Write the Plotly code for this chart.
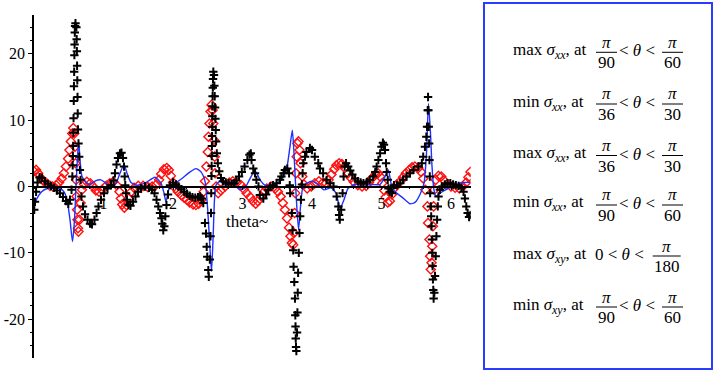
import plotly.graph_objects as go

# ---------------- data ----------------
theta_cross = [0.004, 0.014, 0.03, 0.05, 0.08, 0.115, 0.158, 0.20, 0.245, 0.29, 0.33, 0.374, 0.417, 0.46, 0.494, 0.518, 0.54,
               0.552, 0.557, 0.56, 0.563, 0.566, 0.569, 0.572, 0.575, 0.578, 0.581, 0.584, 0.587, 0.591, 0.597,
               0.610, 0.614, 0.617, 0.62, 0.623, 0.626, 0.629, 0.633, 0.64, 0.65, 0.66, 0.67, 0.683, 0.705, 0.734, 0.77,
               0.806, 0.835, 0.87, 0.90, 0.928, 0.964, 1.007, 1.058, 1.108, 1.144, 1.165, 1.187, 1.209, 1.237, 1.259,
               1.28, 1.295, 1.305, 1.313, 1.324, 1.338, 1.36, 1.388, 1.424, 1.46, 1.496, 1.54, 1.597, 1.655, 1.698,
               1.734, 1.763, 1.788, 1.813, 1.835, 1.846, 1.86, 1.875, 1.89, 1.906, 1.928, 1.957, 2.0, 2.043, 2.08,
               2.12, 2.16, 2.20, 2.24, 2.28, 2.32, 2.36, 2.39, 2.413, 2.436, 2.46, 2.475, 2.485, 2.493, 2.508, 2.515, 2.53, 2.54,
               2.547, 2.55, 2.554, 2.556, 2.558, 2.56, 2.562, 2.564, 2.566, 2.568, 2.57, 2.573, 2.576, 2.58, 2.59,
               2.595, 2.60, 2.605, 2.61, 2.615, 2.62, 2.63, 2.645, 2.665, 2.69, 2.72, 2.76, 2.80, 2.84, 2.88, 2.91,
               2.95, 2.99, 3.03, 3.07, 3.10, 3.12, 3.13, 3.155, 3.18, 3.20, 3.23, 3.25, 3.30, 3.34, 3.37, 3.40, 3.44,
               3.49, 3.54, 3.56, 3.59, 3.61, 3.645, 3.67, 3.68, 3.685, 3.71, 3.72, 3.73, 3.735, 3.745, 3.755, 3.76,
               3.763, 3.766, 3.77, 3.775, 3.785, 3.79, 3.795, 3.80, 3.81, 3.82, 3.83, 3.84, 3.855, 3.865, 3.875, 3.90,
               3.92, 3.97, 4.0, 4.04, 4.09, 4.115, 4.16, 4.21, 4.26, 4.31, 4.355, 4.38, 4.39, 4.40, 4.42, 4.44, 4.455,
               4.47, 4.49, 4.52, 4.55, 4.58, 4.62, 4.66, 4.70, 4.74, 4.79, 4.83, 4.88, 4.91, 4.93, 4.955, 4.98, 5.0,
               5.02, 5.036, 5.05, 5.065, 5.075, 5.09, 5.10, 5.12, 5.15, 5.18, 5.22, 5.27, 5.31, 5.36, 5.41, 5.46, 5.53,
               5.58, 5.60, 5.625, 5.645, 5.655, 5.665, 5.67, 5.675, 5.68, 5.685, 5.69, 5.695, 5.70, 5.71, 5.715, 5.72,
               5.725, 5.73, 5.735, 5.74, 5.745, 5.75, 5.76, 5.77, 5.78, 5.79, 5.80, 5.81, 5.82, 5.84, 5.87, 5.91, 5.95,
               5.99, 6.03, 6.07, 6.11, 6.15, 6.18, 6.20, 6.22, 6.24, 6.26, 6.28]
sigma_cross = [-3.5, -2.3, -0.8, 0.6, 1.4, 1.3, 0.8, 0.4, 0.1, -0.2, -0.6, -1.0, -1.6, -2.2, -2.6, -2.0, -0.5,
               1.5, 3.2, 4.6, 6.1, 8.1, 10.3, 12.9, 15.1, 17.3, 19.8, 21.4, 23.2, 24.2, 24.6,
               24.0, 22.2, 20.4, 18.2, 16.0, 13.5, 11.0, 8.6, 6.5, 4.5, 2.5, 1.0, -1.5, -3.0, -4.2, -5.0,
               -5.6, -5.7, -5.0, -4.0, -3.0, -2.0, -1.0, -0.3, 0.2, 0.9, 2.0, 3.3, 4.3, 5.0, 5.1,
               4.3, 3.0, 1.5, 0.2, -1.0, -2.0, -2.8, -2.9, -2.3, -1.5, -0.8, -0.3, 0.0, -0.2, -0.5,
               -1.0, -2.0, -3.0, -4.0, -4.8, -5.6, -6.6, -6.0, -4.5, -2.8, -1.2, 0.2, 0.6, 0.3, 0.0,
               -0.4, -0.8, -1.1, -1.4, -1.6, -1.7, -1.6, -1.5, -1.8, -2.5, -5.5, -7.1, -9.1, -10.6, -12.6, -13.6, -11.0, -7.5,
               -4.0, -1.0, 1.6, 3.1, 4.6, 6.1, 7.6, 9.0, 10.6, 12.1, 13.6, 14.9, 16.2, 17.3, 16.8,
               15.2, 13.6, 11.9, 10.2, 8.5, 6.8, 5.0, 3.5, 2.3, 1.3, 0.8, 0.6, 0.5, 0.4, 0.5, 0.9,
               1.5, 2.2, 3.0, 4.0, 4.8, 5.0, 4.0, 2.7, 2.0, 1.0, 0.0, -1.3, -1.8, -1.2, -0.5, 0.0, 0.2,
               0.5, 1.0, 1.5, 2.0, 2.5, 2.7, 2.0, 0.2, -1.0, -4.0, -6.6, -9.6, -12.1, -14.4, -16.9, -19.4,
               -21.1, -22.9, -24.2, -24.8, -22.0, -19.0, -16.0, -13.0, -10.0, -7.0, -4.5, -2.0, 0.3, 2.0, 3.5, 4.5,
               5.2, 5.8, 5.5, 4.5, 3.5, 2.7, 2.0, 1.0, 0.5, 0.0, -1.5, -3.0, -4.3, -5.0, -3.5, -1.0, 1.5,
               3.0, 3.5, 3.0, 2.4, 1.8, 1.2, 0.8, 0.6, 0.5, 0.7, 1.0, 1.5, 2.2, 3.0, 4.0, 5.0, 6.0,
               6.6, 6.3, 5.5, 3.5, 2.2, 1.0, -0.3, -0.8, -1.0, 0.2, 0.2, 0.5, 1.0, 1.5, 2.0, 2.5, 3.0,
               3.5, 4.5, 6.0, 7.5, 9.0, 11.5, 13.5, 11.5, 9.0, 6.5, 4.0, 1.5, -1.0, -3.0, -4.5, -6.0,
               -8.0, -10.0, -12.0, -14.0, -15.6, -16.9, -16.0, -13.5, -10.5, -7.5, -5.0, -3.0, -1.5, -0.5, 0.0, 0.3, 0.5,
               0.5, 0.3, 0.2, 0.1, -0.2, -0.8, -1.8, -3.0, -4.0, -4.6, -4.3]

theta_red = [0.00, 0.03, 0.06, 0.10, 0.14, 0.19, 0.23, 0.27, 0.32, 0.36, 0.40, 0.43, 0.46, 0.49, 0.51, 0.53, 0.55,
             0.565, 0.58, 0.59, 0.597, 0.605, 0.61, 0.62, 0.626, 0.633, 0.64, 0.655, 0.67, 0.69, 0.72, 0.76, 0.81,
             0.85, 0.89, 0.935, 0.98, 1.04, 1.09, 1.14, 1.19, 1.23, 1.25, 1.27, 1.30, 1.33, 1.36, 1.40, 1.44, 1.50,
             1.57, 1.64, 1.70, 1.76, 1.80, 1.83, 1.87, 1.91, 1.94, 1.97, 2.00, 2.04, 2.07, 2.12, 2.16, 2.20, 2.24,
             2.29, 2.33, 2.37, 2.41, 2.44, 2.46, 2.48, 2.50, 2.51, 2.525, 2.54, 2.555, 2.57, 2.58, 2.59, 2.60, 2.605,
             2.62, 2.65, 2.69, 2.75, 2.81, 2.86, 2.92, 2.98, 3.02, 3.06, 3.11, 3.15, 3.19, 3.22, 3.27, 3.31, 3.35,
             3.41, 3.47, 3.51, 3.55, 3.58, 3.61, 3.64, 3.67, 3.69, 3.71, 3.73, 3.74, 3.75, 3.76, 3.77, 3.78, 3.79,
             3.805, 3.82, 3.835, 3.86, 3.885, 3.93, 3.99, 4.04, 4.10, 4.16, 4.20, 4.24, 4.28, 4.32, 4.35, 4.39, 4.43,
             4.47, 4.52, 4.56, 4.60, 4.66, 4.72, 4.78, 4.82, 4.86, 4.91, 4.95, 4.98, 5.01, 5.04, 5.06, 5.09, 5.12,
             5.15, 5.18, 5.22, 5.27, 5.31, 5.35, 5.40, 5.44, 5.48, 5.53, 5.57, 5.60, 5.63, 5.66, 5.67, 5.69, 5.70,
             5.71, 5.72, 5.73, 5.74, 5.75, 5.76, 5.78, 5.82, 5.86, 5.90, 5.94, 6.00, 6.06, 6.12, 6.17, 6.22, 6.25,
             6.28]
sigma_red = [2.3, 2.5, 2.0, 1.3, 0.8, 0.4, 0.1, 0.0, 0.2, 0.6, 1.2, 2.0, 3.0, 4.2, 5.5, 6.8, 8.0,
             8.8, 8.0, 6.0, 3.5, 1.0, -1.5, -3.5, -5.0, -6.3, -6.8, -5.0, -2.5, -0.5, 0.3, 0.7, 0.5,
             0.0, -0.6, -0.8, -0.5, 0.1, 0.5, 0.7, 0.2, -0.8, -1.8, -2.7, -3.2, -2.8, -1.8, -0.8, -0.2, 0.1,
             0.1, -0.1, 0.0, 0.3, 1.0, 1.9, 2.6, 2.8, 2.5, 1.6, 0.6, -0.3, -0.8, -1.3, -1.7, -2.0, -2.4,
             -2.7, -2.8, -2.6, -2.0, -0.8, 0.8, 3.0, 5.2, 7.5, 9.5, 11.3, 12.3, 11.5, 9.5, 7.0, 4.5, 2.0,
             0.0, -1.0, -0.6, 0.0, 0.6, 0.8, 0.6, 0.2, -0.4, -1.0, -1.6, -2.2, -2.6, -2.2, -1.5, -0.8, -0.3,
             0.0, -0.3, -0.8, -1.5, -2.5, -3.5, -4.8, -6.2, -7.5, -8.5, -8.8, -7.0, -4.0, -1.0, 2.0, 4.5, 6.5,
             6.8, 5.5, 3.5, 1.5, 0.3, -0.3, 0.0, 0.5, 0.8, 0.6, 0.5, 1.0, 1.8, 2.6, 3.2, 3.5, 3.4,
             2.8, 2.0, 1.3, 0.7, 0.2, 0.0, 0.1, 0.6, 1.2, 1.8, 2.0, 1.5, 0.5, -0.6, -1.6, -2.4, -2.2,
             -1.2, -0.3, 0.3, 0.8, 1.4, 2.0, 2.5, 2.9, 3.0, 2.8, 2.2, 1.2, -0.5, -3.0, -5.5, -8.0, -10.5,
             -12.5, -11.5, -9.0, -6.0, -3.0, -0.5, 1.0, 1.6, 1.5, 0.9, 0.3, 0.0, -0.2, -0.3, 0.0, 0.6, 1.4,
             2.2]

theta_blue = [0.007, 0.043, 0.11, 0.187, 0.302, 0.374, 0.432, 0.475, 0.518, 0.554, 0.583, 0.604, 0.626, 0.643, 0.662,
              0.691, 0.748, 0.806, 0.892, 0.964, 1.036, 1.108, 1.18, 1.237, 1.295, 1.338, 1.396, 1.482, 1.597, 1.741,
              1.827, 1.871, 1.899, 1.928, 1.957, 2.029, 2.129, 2.245, 2.331, 2.403, 2.46, 2.496, 2.525, 2.554, 2.576,
              2.597, 2.619, 2.676, 2.748, 2.849, 2.964, 3.036, 3.108, 3.18, 3.252, 3.324, 3.468, 3.568, 3.64, 3.683,
              3.717, 3.741, 3.77, 3.806, 3.835, 3.871, 3.928, 4.0, 4.086, 4.173, 4.273, 4.345, 4.403, 4.46, 4.518,
              4.619, 4.719, 4.863, 4.978, 5.05, 5.098, 5.137, 5.194, 5.295, 5.41, 5.482, 5.554, 5.612, 5.647, 5.676,
              5.705, 5.727, 5.755, 5.784, 5.842, 5.942, 6.058, 6.158, 6.273]
sigma_blue = [-2.8, -1.8, -0.8, -0.3, -0.2, -0.3, -0.8, -2.0, -5.0, -8.3, -5.0, 0.0, 4.5, 6.8, 4.0,
              1.5, 0.6, 0.3, 0.9, 1.0, 0.5, 0.1, 0.5, 2.0, 3.3, 2.0, 0.6, 0.2, 0.5, 1.4,
              0.5, -1.0, -2.3, -1.0, 0.2, 0.5, 1.2, 2.2, 2.7, 2.2, 0.8, -3.0, -8.0, -12.8, -8.0,
              -2.0, 0.2, 0.8, 0.2, 0.5, -0.5, -0.2, 1.2, 2.4, 1.0, 0.2, 0.3, 1.2, 3.0, 6.0,
              8.5, 5.0, -1.0, -6.5, -3.0, 0.0, 0.5, 0.8, 0.3, -0.5, -0.2, -1.0, -3.3, -2.0, -0.3,
              0.3, 0.3, 0.3, 0.3, 1.5, 2.5, 0.5, -0.8, -1.6, -2.6, -2.4, -1.2, 0.5, 5.0, 12.5,
              8.0, 3.0, -0.5, -1.5, -1.0, -0.4, 0.2, 0.6, 0.6]

x_tick_vals = [1, 2, 3, 4, 5, 6]
y_tick_vals = [-20, -10, 0, 10, 20]
y_tick_text = ["-20", "-10", "0", "10", "20"]
axis_label = "theta~"

# legend rows: prefix, numerator/denominator pairs (None = plain lower bound)
legend_prefix = ["max", "min", "max", "min", "max", "min"]
legend_sub = ["xx", "xx", "xx", "xx", "xy", "xy"]
legend_low = [("π", "90"), ("π", "36"), ("π", "36"), ("π", "90"), None, ("π", "90")]
legend_high = [("π", "60"), ("π", "30"), ("π", "30"), ("π", "60"), ("π", "180"), ("π", "60")]

# ---------------- figure ----------------
W, H = 716, 371
FONT = "Liberation Serif"


def px(xp):
    return xp / W


def py(yp):
    return 1 - yp / H


fig = go.Figure()
fig.add_trace(go.Scatter(x=theta_red, y=sigma_red, mode="markers",
                         marker=dict(symbol="diamond-open", size=7, color="#ff1010",
                                     line=dict(width=1.4, color="#ff1010")),
                         showlegend=False, hoverinfo="skip"))
fig.add_trace(go.Scatter(x=theta_blue, y=sigma_blue, mode="lines",
                         line=dict(color="#2030ff", width=1.4, shape="spline", smoothing=0.6),
                         showlegend=False, hoverinfo="skip"))
fig.add_trace(go.Scatter(x=theta_cross, y=sigma_cross, mode="markers",
                         marker=dict(symbol="cross-thin", size=6, color="black",
                                     line=dict(width=2, color="black")),
                         showlegend=False, hoverinfo="skip"))

x0p, x1p = 34, 34 + 69.5 * 6.2832
ytop, ybot = 15, 358
yzero = 186.5

fig.update_layout(
    width=W, height=H, margin=dict(l=0, r=0, t=0, b=0),
    paper_bgcolor="white", plot_bgcolor="white",
    font=dict(family=FONT, size=16, color="black"),
    xaxis=dict(domain=[px(x0p), px(x1p)], range=[0, 6.2832], anchor="free", position=py(yzero),
               automargin=False,
               showline=True, linecolor="black", linewidth=1.5, showgrid=False, zeroline=False,
               ticks="outside", ticklen=3, tickwidth=1, tickcolor="black",
               tickvals=x_tick_vals, ticktext=[str(v) for v in x_tick_vals],
               tickfont=dict(family=FONT, size=16, color="black"),
               minor=dict(dtick=0.2, ticks="outside", ticklen=2, tickcolor="black")),
    yaxis=dict(domain=[py(ybot), py(ytop)], range=[-25.85, 25.85], anchor="x",
               automargin=False,
               showline=True, linecolor="black", linewidth=1.5, showgrid=False, zeroline=False,
               ticks="outside", ticklen=4, tickwidth=1, tickcolor="black",
               tickvals=y_tick_vals, ticktext=y_tick_text,
               tickfont=dict(family=FONT, size=16, color="black"),
               minor=dict(dtick=2, ticks="outside", ticklen=2, tickcolor="black")),
)

annotations = []
shapes = []
annotations.append(dict(x=3.07, y=-5.35, xref="x", yref="y", text=axis_label, showarrow=False,
                        font=dict(family=FONT, size=17, color="black"), xanchor="center", yanchor="middle"))

# legend box
shapes.append(dict(type="rect", xref="paper", yref="paper", x0=px(484), x1=px(712), y0=py(369), y1=py(3),
                   line=dict(color="#2a3cff", width=2), fillcolor="rgba(0,0,0,0)"))

row_y = [52.3, 104.0, 155.5, 205.0, 256.0, 307.0]
LF = 17


def frac(cx, cy, num, den, half):
    annotations.append(dict(x=px(cx), y=py(cy - 10), xref="paper", yref="paper", text="<i>%s</i>" % num,
                            showarrow=False, font=dict(family=FONT, size=LF, color="black"),
                            xanchor="center", yanchor="middle"))
    annotations.append(dict(x=px(cx), y=py(cy + 10.5), xref="paper", yref="paper", text=den,
                            showarrow=False, font=dict(family=FONT, size=LF, color="black"),
                            xanchor="center", yanchor="middle"))
    shapes.append(dict(type="line", xref="paper", yref="paper", x0=px(cx - half), x1=px(cx + half),
                       y0=py(cy), y1=py(cy), line=dict(color="black", width=1)))


for i in range(6):
    cy = row_y[i]
    annotations.append(dict(x=px(511), y=py(cy - 1.5), xref="paper", yref="paper",
                            text="%s <i>σ</i><sub><i>%s</i></sub>, at" % (legend_prefix[i], legend_sub[i]),
                            showarrow=False, font=dict(family=FONT, size=LF, color="black"),
                            xanchor="left", yanchor="middle"))
    if legend_low[i] is None:
        annotations.append(dict(x=px(619), y=py(cy - 1.5), xref="paper", yref="paper",
                                text="0 &lt; <i>θ</i> &lt;", showarrow=False,
                                font=dict(family=FONT, size=LF, color="black"),
                                xanchor="center", yanchor="middle"))
        frac(666.7, cy, legend_high[i][0], legend_high[i][1], 14)
    else:
        frac(606.5, cy, legend_low[i][0], legend_low[i][1], 10.5)
        annotations.append(dict(x=px(637), y=py(cy - 1.5), xref="paper", yref="paper",
                                text="&lt; <i>θ</i> &lt;", showarrow=False,
                                font=dict(family=FONT, size=LF, color="black"),
                                xanchor="center", yanchor="middle"))
        frac(672.5, cy, legend_high[i][0], legend_high[i][1], 10.5)

fig.update_layout(annotations=annotations, shapes=shapes)
fig.write_html("out.html", config={"displayModeBar": False},
               post_script="document.body.style.margin='0';document.body.style.padding='0';")
